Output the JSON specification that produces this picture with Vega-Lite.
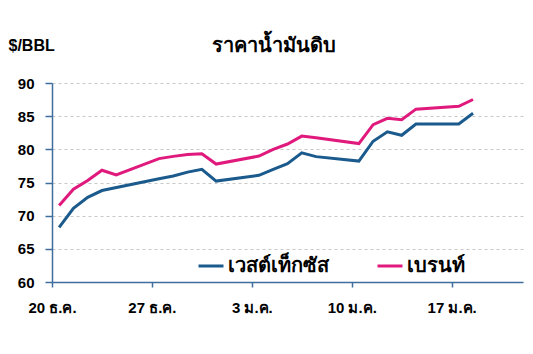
{
  "$schema": "https://vega.github.io/schema/vega-lite/v6.json",
  "width": 471,
  "height": 199,
  "autosize": {"type": "none"},
  "padding": {"left": 52, "top": 83, "right": 10, "bottom": 72},
  "background": "white",
  "config": {"font": "Liberation Sans", "view": {"stroke": null}},
  "title": {"text": "ราคาน้ำมันดิบ", "anchor": "middle", "frame": "group", "dx": -14, "offset": -19, "fontSize": 20, "fontWeight": "bold", "color": "#000000"},
  "data": {
    "values": [
      {"date": "2021-12-20T12:00:00Z", "series": "เวสต์เท็กซัส", "price": 68.23},
      {"date": "2021-12-21T12:00:00Z", "series": "เวสต์เท็กซัส", "price": 71.12},
      {"date": "2021-12-22T12:00:00Z", "series": "เวสต์เท็กซัส", "price": 72.76},
      {"date": "2021-12-23T12:00:00Z", "series": "เวสต์เท็กซัส", "price": 73.79},
      {"date": "2021-12-27T12:00:00Z", "series": "เวสต์เท็กซัส", "price": 75.57},
      {"date": "2021-12-28T12:00:00Z", "series": "เวสต์เท็กซัส", "price": 75.98},
      {"date": "2021-12-29T12:00:00Z", "series": "เวสต์เท็กซัส", "price": 76.56},
      {"date": "2021-12-30T12:00:00Z", "series": "เวสต์เท็กซัส", "price": 76.99},
      {"date": "2021-12-31T12:00:00Z", "series": "เวสต์เท็กซัส", "price": 75.21},
      {"date": "2022-01-03T12:00:00Z", "series": "เวสต์เท็กซัส", "price": 76.08},
      {"date": "2022-01-04T12:00:00Z", "series": "เวสต์เท็กซัส", "price": 76.99},
      {"date": "2022-01-05T12:00:00Z", "series": "เวสต์เท็กซัส", "price": 77.85},
      {"date": "2022-01-06T12:00:00Z", "series": "เวสต์เท็กซัส", "price": 79.46},
      {"date": "2022-01-07T12:00:00Z", "series": "เวสต์เท็กซัส", "price": 78.90},
      {"date": "2022-01-10T12:00:00Z", "series": "เวสต์เท็กซัส", "price": 78.23},
      {"date": "2022-01-11T12:00:00Z", "series": "เวสต์เท็กซัส", "price": 81.22},
      {"date": "2022-01-12T12:00:00Z", "series": "เวสต์เท็กซัส", "price": 82.64},
      {"date": "2022-01-13T12:00:00Z", "series": "เวสต์เท็กซัส", "price": 82.12},
      {"date": "2022-01-14T12:00:00Z", "series": "เวสต์เท็กซัส", "price": 83.82},
      {"date": "2022-01-17T12:00:00Z", "series": "เวสต์เท็กซัส", "price": 83.82},
      {"date": "2022-01-18T12:00:00Z", "series": "เวสต์เท็กซัส", "price": 85.43},
      {"date": "2021-12-20T12:00:00Z", "series": "เบรนท์", "price": 71.52},
      {"date": "2021-12-21T12:00:00Z", "series": "เบรนท์", "price": 73.98},
      {"date": "2021-12-22T12:00:00Z", "series": "เบรนท์", "price": 75.29},
      {"date": "2021-12-23T12:00:00Z", "series": "เบรนท์", "price": 76.85},
      {"date": "2021-12-24T12:00:00Z", "series": "เบรนท์", "price": 76.14},
      {"date": "2021-12-27T12:00:00Z", "series": "เบรนท์", "price": 78.60},
      {"date": "2021-12-28T12:00:00Z", "series": "เบรนท์", "price": 78.94},
      {"date": "2021-12-29T12:00:00Z", "series": "เบรนท์", "price": 79.23},
      {"date": "2021-12-30T12:00:00Z", "series": "เบรนท์", "price": 79.32},
      {"date": "2021-12-31T12:00:00Z", "series": "เบรนท์", "price": 77.78},
      {"date": "2022-01-03T12:00:00Z", "series": "เบรนท์", "price": 78.98},
      {"date": "2022-01-04T12:00:00Z", "series": "เบรนท์", "price": 80.00},
      {"date": "2022-01-05T12:00:00Z", "series": "เบรนท์", "price": 80.80},
      {"date": "2022-01-06T12:00:00Z", "series": "เบรนท์", "price": 81.99},
      {"date": "2022-01-07T12:00:00Z", "series": "เบรนท์", "price": 81.75},
      {"date": "2022-01-10T12:00:00Z", "series": "เบรนท์", "price": 80.87},
      {"date": "2022-01-11T12:00:00Z", "series": "เบรนท์", "price": 83.72},
      {"date": "2022-01-12T12:00:00Z", "series": "เบรนท์", "price": 84.67},
      {"date": "2022-01-13T12:00:00Z", "series": "เบรนท์", "price": 84.47},
      {"date": "2022-01-14T12:00:00Z", "series": "เบรนท์", "price": 86.06},
      {"date": "2022-01-17T12:00:00Z", "series": "เบรนท์", "price": 86.48},
      {"date": "2022-01-18T12:00:00Z", "series": "เบรนท์", "price": 87.51}
    ]
  },
  "mark": {"type": "line", "strokeWidth": 3},
  "encoding": {
    "x": {
      "field": "date",
      "type": "temporal",
      "scale": {"type": "utc", "domain": [{"year": 2021, "month": 12, "date": 20, "utc": true}, {"year": 2022, "month": 1, "date": 22, "utc": true}]},
      "axis": {
        "title": null,
        "values": [
          {"year": 2021, "month": 12, "date": 20, "utc": true},
          {"year": 2021, "month": 12, "date": 27, "utc": true},
          {"year": 2022, "month": 1, "date": 3, "utc": true},
          {"year": 2022, "month": 1, "date": 10, "utc": true},
          {"year": 2022, "month": 1, "date": 17, "utc": true}
        ],
        "labelExpr": "utcdate(datum.value) + (utcmonth(datum.value) == 11 ? ' ธ.ค.' : ' ม.ค.')",
        "grid": false,
        "domainColor": "#3f6e9e",
        "domainWidth": 1.5,
        "tickColor": "#3f6e9e",
        "tickWidth": 1.5,
        "tickSize": 5,
        "labelFontSize": 15,
        "labelFontWeight": "bold",
        "labelColor": "#000000",
        "labelPadding": 13,
        "labelFlush": false,
        "labelOverlap": false
      }
    },
    "y": {
      "field": "price",
      "type": "quantitative",
      "scale": {"domain": [60, 90], "nice": false, "zero": false},
      "axis": {
        "title": "$/BBL",
        "titleAngle": 0,
        "titleX": -44,
        "titleY": -38,
        "titleAlign": "left",
        "titleBaseline": "middle",
        "titleFontSize": 16,
        "titleFontWeight": "bold",
        "titleColor": "#000000",
        "values": [60, 65, 70, 75, 80, 85, 90],
        "grid": true,
        "gridDash": [3, 3],
        "gridColor": "#c8c8c8",
        "domainColor": "#3f6e9e",
        "domainWidth": 1.5,
        "tickColor": "#3f6e9e",
        "tickWidth": 1.5,
        "tickSize": 7,
        "labelPadding": 11,
        "labelFontSize": 15,
        "labelFontWeight": "bold",
        "labelColor": "#000000"
      }
    },
    "color": {
      "field": "series",
      "type": "nominal",
      "scale": {"domain": ["เวสต์เท็กซัส", "เบรนท์"], "range": ["#1b5a8c", "#e0197d"]},
      "legend": {
        "title": null,
        "orient": "none",
        "legendX": 145,
        "legendY": 169,
        "direction": "horizontal",
        "symbolType": "stroke",
        "symbolSize": 625,
        "symbolStrokeWidth": 3,
        "labelFontSize": 20,
        "labelFontWeight": "bold",
        "labelColor": "#000000",
        "labelOffset": 3,
        "columnPadding": 42
      }
    }
  }
}
